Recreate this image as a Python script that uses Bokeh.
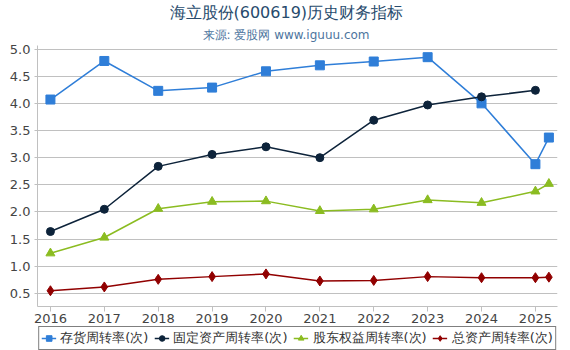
from bokeh.plotting import figure
from bokeh.layouts import column
from bokeh.models import Range1d, FixedTicker, Legend, LegendItem, Title, PrintfTickFormatter
from bokeh.embed import file_html
from bokeh.resources import INLINE

NAN = float("nan")

# x positions: yearly points plus latest partial period after 2025
x_pos = [2016, 2017, 2018, 2019, 2020, 2021, 2022, 2023, 2024, 2025, 2025.25]
year_ticks = [2016, 2017, 2018, 2019, 2020, 2021, 2022, 2023, 2024, 2025]
y_ticks = [0.5, 1.0, 1.5, 2.0, 2.5, 3.0, 3.5, 4.0, 4.5, 5.0]

inventory_turnover = [4.07, 4.78, 4.23, 4.29, 4.59, 4.70, 4.77, 4.85, 4.00, 2.88, 3.37]
fixed_asset_turnover = [1.64, 2.05, 2.84, 3.06, 3.20, 3.00, 3.69, 3.97, 4.12, 4.24, NAN]
equity_turnover = [1.24, 1.53, 2.06, 2.19, 2.20, 2.02, 2.05, 2.22, 2.17, 2.38, 2.52]
total_asset_turnover = [0.55, 0.62, 0.76, 0.81, 0.86, 0.73, 0.74, 0.81, 0.79, 0.79, 0.80]

labels = ["存货周转率(次)", "固定资产周转率(次)", "股东权益周转率(次)", "总资产周转率(次)"]
colors = ["#2f7ed8", "#0d233a", "#8bbc21", "#910000"]
markers = ["square", "circle", "triangle", "diamond"]
sizes = [9, 8, 9, 10]

title_text = "海立股份(600619)历史财务指标"
subtitle_text = "来源: 爱股网 www.iguuu.com"

p = figure(width=570, height=325, output_backend="svg", toolbar_location=None,
           x_range=Range1d(2015.76, 2025.41), y_range=Range1d(0.26, 5.065),
           min_border_left=37, min_border_right=13, min_border_top=0, min_border_bottom=0)
p.outline_line_color = None
p.background_fill_color = "white"
p.border_fill_color = "white"

sub = Title(text=subtitle_text, align="left", text_font_size="12px",
            text_color="#4d759e", text_font="DejaVu Sans", text_font_style="normal",
            standoff=8, offset=165)
main = Title(text=title_text, align="left", text_font_size="16px",
             text_color="#274b6d", text_font="DejaVu Sans", text_font_style="normal",
             standoff=0, offset=132)
p.add_layout(sub, "above")
p.add_layout(main, "above")

p.xaxis.ticker = FixedTicker(ticks=year_ticks)
p.yaxis.ticker = FixedTicker(ticks=y_ticks)
p.yaxis.formatter = PrintfTickFormatter(format="%.1f")
p.xgrid.grid_line_color = None
p.ygrid.grid_line_color = "#c0c0c0"
p.ygrid.grid_line_width = 1
for ax in (p.xaxis, p.yaxis):
    ax.axis_line_color = "#c0c0c0"
    ax.major_tick_line_color = "#c0c0c0"
    ax.minor_tick_line_color = None
    ax.major_label_text_font = "DejaVu Sans"
    ax.major_label_text_color = "#444444"
    ax.major_label_text_font_size = "13px"
p.xaxis.major_tick_in = 0
p.xaxis.major_tick_out = 5
p.xaxis.major_label_standoff = 2
p.yaxis.major_tick_in = 0
p.yaxis.major_tick_out = 3
p.yaxis.major_label_standoff = 4

series = [inventory_turnover, fixed_asset_turnover, equity_turnover, total_asset_turnover]
for vals, c, m, s in zip(series, colors, markers, sizes):
    p.line(x_pos, vals, line_color=c, line_width=1.5)
    p.scatter(x_pos, vals, marker=m, size=s, fill_color=c, line_color=c)

# legend strip below the chart (its series mirror the chart's, kept out of view)
lg = figure(width=570, height=25, output_backend="svg", toolbar_location=None,
            x_range=Range1d(0, 1), y_range=Range1d(0, 1),
            x_axis_location=None, y_axis_location=None, min_border=0)
lg.outline_line_color = None
lg.xgrid.grid_line_color = None
lg.ygrid.grid_line_color = None
items = []
for vals, lab, c, m, s in zip(series, labels, colors, markers, sizes):
    lr = lg.line(x_pos, vals, line_color=c, line_width=1.5)
    sr = lg.scatter(x_pos, vals, marker=m, size=s, fill_color=c, line_color=c)
    items.append(LegendItem(label=lab, renderers=[lr, sr]))

legend = Legend(items=items, orientation="horizontal", location="center",
                border_line_color="black", border_line_width=1,
                label_text_font="DejaVu Sans", label_text_font_size="13px",
                label_text_color="#333333", glyph_width=15, glyph_height=14,
                label_height=14, label_standoff=4, spacing=6, padding=2, margin=0)
lg.add_layout(legend)

layout = column(p, lg, spacing=0)
open("out.html", "w").write(file_html(layout, INLINE))
